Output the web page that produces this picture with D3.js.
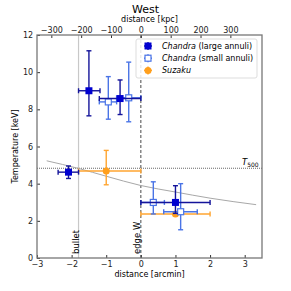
<!DOCTYPE html>
<html>
<head>
<meta charset="utf-8">
<script src="https://cdn.jsdelivr.net/npm/d3@7"></script>
<style>
  body { margin: 0; background: #fff; }
  text { font-family: "DejaVu Sans", sans-serif; }
</style>
</head>
<body>
<svg id="chart"></svg>
<script>
// Chandra large annuli: [x, xlo, xhi, T, Tlo, Thi]
const chandraLarge = [
  [-1.5, -1.8, -1.18, 9.0, 7.65, 11.15],
  [-0.6, -1.2, 0.0, 8.58, 7.72, 9.58],
  [-2.09, -2.39, -1.8, 4.62, 4.28, 4.95],
  [1.0, 0.0, 2.0, 2.99, 2.4, 3.89]
];
const chandraSmall = [
  [-0.94, -1.2, -0.7, 8.4, 7.47, 9.76],
  [-0.35, -0.7, 0.0, 8.62, 7.33, 10.54],
  [0.36, 0.0, 0.68, 2.99, 2.37, 4.1],
  [1.15, 0.66, 1.63, 2.49, 1.52, 4.0]
];
const suzaku = [
  [-1.0, -1.8, 0.0, 4.68, 3.94, 5.79],
  [1.0, 0.0, 2.0, 2.37, 2.27, 2.47]
];
// grey model profile
const modelCurve = [[-2.72, 5.23], [-1.8, 4.82], [-1.0, 4.4], [0.0, 3.9], [1.0, 3.55], [2.0, 3.22], [3.33, 2.87]];
const t500 = 4.83;
const bulletX = -1.8;
const edgeX = 0;
const kpcPerArcmin = 116;
const xTicks = [-3, -2, -1, 0, 1, 2, 3];
const kpcTicks = [-300, -200, -100, 0, 100, 200, 300];
const yTicks = [0, 2, 4, 6, 8, 10, 12];

const width = 291, height = 291;
const margin = { top: 35, right: 29, bottom: 33, left: 37 };
const w = width - margin.left - margin.right;
const h = height - margin.top - margin.bottom;

const svg = d3.select('#chart').attr('width', width).attr('height', height);
const g = svg.append('g').attr('transform', `translate(${margin.left},${margin.top})`);

const x = d3.scaleLinear().domain([-3, 3.5]).range([0, w]);
const xTop = d3.scaleLinear().domain([-3 * kpcPerArcmin, 3.5 * kpcPerArcmin]).range([0, w]);
const y = d3.scaleLinear().domain([0, 12]).range([h, 0]);

// reference lines
g.append('line').attr('x1', x(bulletX)).attr('x2', x(bulletX)).attr('y1', 0).attr('y2', h)
  .attr('stroke', '#c8c8c8').attr('stroke-width', 1.2);
g.append('line').attr('x1', x(edgeX)).attr('x2', x(edgeX)).attr('y1', 0).attr('y2', h)
  .attr('stroke', '#333').attr('stroke-width', 0.9).attr('stroke-dasharray', '3,2');
g.append('line').attr('x1', 0).attr('x2', w).attr('y1', y(t500)).attr('y2', y(t500))
  .attr('stroke', '#555').attr('stroke-width', 0.9).attr('stroke-dasharray', '1,1');

g.append('path').datum(modelCurve)
  .attr('d', d3.line().curve(d3.curveMonotoneX).x(d => x(d[0])).y(d => y(d[1])))
  .attr('fill', 'none').attr('stroke', '#a8a8a8').attr('stroke-width', 1);

// line labels
g.append('text').attr('transform', `translate(${x(bulletX)},${h - 4}) rotate(-90)`)
  .attr('font-size', 8.5).text('bullet');
g.append('text').attr('transform', `translate(${x(edgeX) - 0.5},${h - 4}) rotate(-90)`)
  .attr('font-size', 8.5).text('edge W');
const tl = g.append('text').attr('x', w - 20).attr('y', y(t500) - 3).attr('font-size', 8.5);
tl.append('tspan').attr('font-style', 'italic').text('T');
tl.append('tspan').attr('font-size', 6).attr('dy', 2).text('500');

// error bars
function drawSeries(data, color, barColor, shape) {
  const s = g.append('g');
  const cap = 2.5;
  data.forEach(d => {
    const [cx, xlo, xhi, cy, ylo, yhi] = d;
    const p = s.append('g').attr('stroke', barColor).attr('stroke-width', 1.4);
    p.append('line').attr('x1', x(xlo)).attr('x2', x(xhi)).attr('y1', y(cy)).attr('y2', y(cy));
    p.append('line').attr('x1', x(cx)).attr('x2', x(cx)).attr('y1', y(ylo)).attr('y2', y(yhi));
    [xlo, xhi].forEach(v => p.append('line').attr('x1', x(v)).attr('x2', x(v))
      .attr('y1', y(cy) - cap).attr('y2', y(cy) + cap));
    [ylo, yhi].forEach(v => p.append('line').attr('x1', x(cx) - cap).attr('x2', x(cx) + cap)
      .attr('y1', y(v)).attr('y2', y(v)));
    marker(s, x(cx), y(cy), color, shape);
  });
}

function marker(sel, cx, cy, color, shape) {
  if (shape === 'filled') {
    sel.append('rect').attr('x', cx - 3.5).attr('y', cy - 3.5).attr('width', 7).attr('height', 7)
      .attr('fill', color);
  } else if (shape === 'open') {
    sel.append('rect').attr('x', cx - 3).attr('y', cy - 3).attr('width', 6).attr('height', 6)
      .attr('fill', '#fff').attr('stroke', color).attr('stroke-width', 1.2);
  } else {
    sel.append('circle').attr('cx', cx).attr('cy', cy).attr('r', 3.5).attr('fill', color);
  }
}

drawSeries(suzaku, '#ff9f1c', '#ffa530', 'circle');
drawSeries(chandraSmall, '#4a74e6', '#4a74e6', 'open');
drawSeries(chandraLarge, '#0000d0', '#14149a', 'filled');

// axes
const xAxis = d3.axisBottom(x).tickValues(xTicks).tickSizeInner(-3).tickSizeOuter(0)
  .tickFormat(d => d3.format('d')(d).replace('-', '\u2212'));
const xAxisTop = d3.axisTop(xTop).tickValues(kpcTicks).tickSizeInner(-3).tickSizeOuter(0)
  .tickFormat(d => d3.format('d')(d).replace('-', '\u2212'));
const yAxis = d3.axisLeft(y).tickValues(yTicks).tickSizeInner(-3).tickSizeOuter(0);

const styleAxis = a => {
  a.select('.domain').remove();
  a.selectAll('.tick line').attr('stroke', '#333');
  a.selectAll('.tick text').attr('font-size', 8).attr('fill', '#222')
    .attr('font-family', '"DejaVu Sans", sans-serif');
};
g.append('g').attr('transform', `translate(0,${h})`).call(xAxis).call(styleAxis)
  .selectAll('.tick text').attr('dy', '0.8em');
g.append('g').call(xAxisTop).call(styleAxis)
  .selectAll('.tick text').attr('dy', '0.1em');
g.append('g').call(yAxis).call(styleAxis)
  .selectAll('.tick text').attr('dx', '-0.1em');

g.append('rect').attr('width', w).attr('height', h).attr('fill', 'none')
  .attr('stroke', '#777').attr('stroke-width', 1.3);

// titles
const cxPlot = margin.left + w / 2;
svg.append('text').attr('x', cxPlot - 4).attr('y', 13).attr('text-anchor', 'middle')
  .attr('font-size', 11).text('West');
svg.append('text').attr('x', cxPlot).attr('y', 22).attr('text-anchor', 'middle')
  .attr('font-size', 8).text('distance [kpc]');
svg.append('text').attr('x', cxPlot).attr('y', 277).attr('text-anchor', 'middle')
  .attr('font-size', 8).text('distance [arcmin]');
svg.append('text').attr('transform', `translate(18,${margin.top + h / 2}) rotate(-90)`)
  .attr('text-anchor', 'middle').attr('font-size', 8).text('Temperature [keV]');

// legend
const legend = g.append('g').attr('transform', `translate(${136 - margin.left},${39 - margin.top})`);
legend.append('rect').attr('width', 121).attr('height', 39).attr('rx', 2)
  .attr('fill', '#fff').attr('fill-opacity', 0.85).attr('stroke', '#ddd');
const legendItems = [
  { name: 'Chandra', rest: ' (large annuli)', color: '#0000d0', bar: '#14149a', shape: 'filled' },
  { name: 'Chandra', rest: ' (small annuli)', color: '#4a74e6', bar: '#4a74e6', shape: 'open' },
  { name: 'Suzaku', rest: '', color: '#ff9f1c', bar: '#ffa530', shape: 'circle' }
];
legendItems.forEach((d, i) => {
  const ly = 7 + i * 12.2;
  const item = legend.append('g');
  item.append('line').attr('x1', 8).attr('x2', 16).attr('y1', ly).attr('y2', ly)
    .attr('stroke', d.bar).attr('stroke-width', 1.4);
  item.append('line').attr('x1', 12).attr('x2', 12).attr('y1', ly - 4).attr('y2', ly + 4)
    .attr('stroke', d.bar).attr('stroke-width', 1.4);
  marker(item, 12, ly, d.color, d.shape);
  const t = item.append('text').attr('x', 26).attr('y', ly + 3).attr('font-size', 8);
  t.append('tspan').attr('font-style', 'italic').text(d.name);
  t.append('tspan').text(d.rest);
});
</script>
</body>
</html>
